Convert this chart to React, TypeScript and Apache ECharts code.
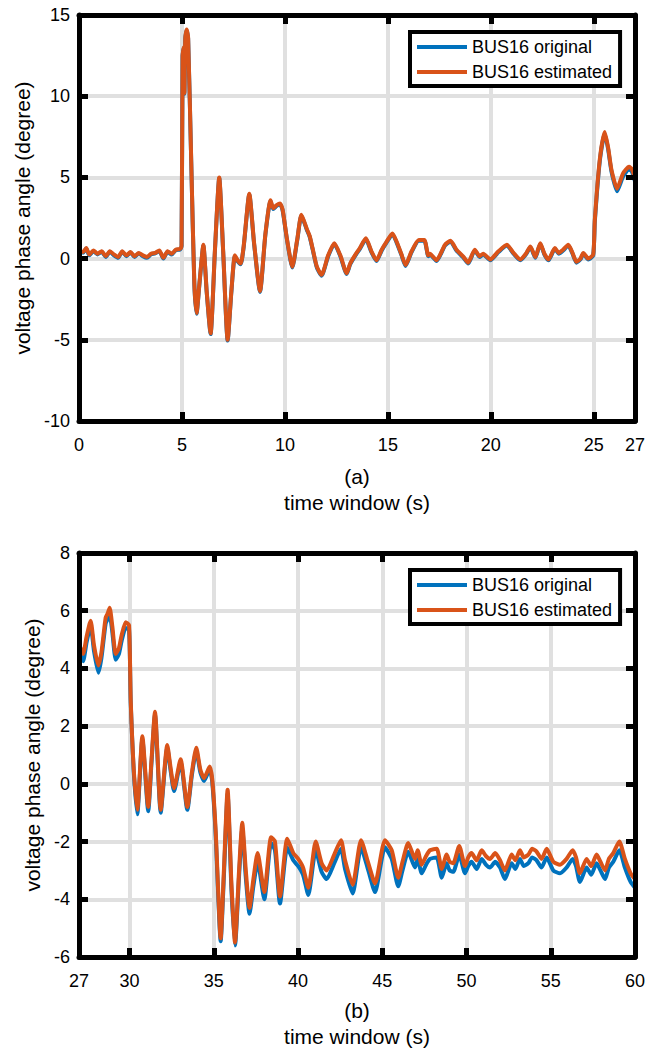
import React, { useEffect, useRef } from "react";
import * as echarts from "echarts";

// ---------- Data: subplot (a) ----------
const timeA = [0, 0.2, 0.35, 0.5, 0.7, 0.9, 1.1, 1.3, 1.5, 1.7, 1.9, 2.1, 2.3, 2.5, 2.7, 2.9, 3.1, 3.3, 3.5, 3.7, 3.9, 4.1, 4.3, 4.5, 4.7, 4.9, 4.98, 5.03, 5.08, 5.12, 5.16, 5.23, 5.3, 5.45, 5.6, 5.71, 5.85, 6.04, 6.2, 6.39, 6.6, 6.81, 7.0, 7.22, 7.4, 7.57, 7.7, 7.85, 8.0, 8.27, 8.5, 8.79, 9.05, 9.3, 9.43, 9.6, 9.76, 9.89, 10.1, 10.36, 10.6, 10.8, 11.07, 11.2, 11.34, 11.55, 11.78, 12.1, 12.4, 12.69, 13.0, 13.17, 13.4, 13.64, 13.93, 14.2, 14.45, 14.7, 14.94, 15.22, 15.42, 15.65, 15.86, 16.15, 16.5, 16.77, 16.96, 17.04, 17.36, 17.77, 18.04, 18.33, 18.66, 18.9, 19.22, 19.45, 19.63, 19.97, 20.37, 20.78, 21.1, 21.43, 21.7, 21.92, 22.16, 22.4, 22.6, 22.8, 23.11, 23.3, 23.51, 23.76, 23.95, 24.16, 24.35, 24.49, 24.73, 24.97, 25.05, 25.29, 25.53, 25.7, 25.86, 26.13, 26.42, 26.71, 26.85, 27];
const estimatedA = [0.5, 0.4, 0.65, 0.25, 0.5, 0.3, 0.45, 0.15, 0.45, 0.25, 0.1, 0.45, 0.2, 0.4, 0.15, 0.35, 0.2, 0.1, 0.3, 0.35, 0.5, 0.05, 0.45, 0.3, 0.55, 0.6, 0.8, 12.5, 13.0, 10.2, 13.6, 14.1, 13.6, 6.0, -1.5, -3.35, -1.5, 0.85, -2.0, -4.6, 0.5, 5.0, 0.5, -5.0, -2.0, 0.2, -0.1, -0.3, 0.8, 4.0, 1.0, -2.0, 1.5, 3.6, 3.1, 3.3, 3.4, 3.0, 1.2, -0.5, 1.2, 2.7, 1.8, 1.4, 0.65, -0.5, -1.0, 0.2, 0.95, 0.2, -0.9, -0.3, 0.2, 0.65, 1.25, 0.45, -0.1, 0.55, 1.05, 1.55, 1.05, 0.3, -0.4, 0.45, 1.15, 1.15, 0.2, 0.3, -0.1, 0.85, 1.1, 0.55, 0.12, -0.25, 0.55, 0.15, 0.3, -0.05, 0.45, 0.85, 0.35, -0.05, 0.3, 0.75, 0.1, 0.95, 0.3, -0.05, 0.65, 0.35, 0.55, 0.85, 0.4, -0.2, 0.0, 0.35, 0.0, 0.25, 2.4, 6.1, 7.8, 6.8, 5.45, 4.3, 5.25, 5.65, 5.5, 4.95];
const originalA = [0.47, 0.36, 0.62, 0.2, 0.46, 0.26, 0.42, 0.1, 0.42, 0.2, 0.05, 0.42, 0.15, 0.37, 0.1, 0.32, 0.15, 0.05, 0.27, 0.32, 0.46, 0.0, 0.42, 0.25, 0.52, 0.56, 0.76, 12.45, 12.95, 10.15, 13.55, 14.05, 13.55, 5.95, -1.55, -3.4, -1.55, 0.8, -2.05, -4.65, 0.45, 4.95, 0.45, -5.05, -2.05, 0.15, -0.15, -0.35, 0.75, 3.95, 0.95, -2.05, 1.45, 3.55, 3.05, 3.25, 3.35, 2.95, 1.15, -0.55, 1.15, 2.65, 1.75, 1.35, 0.6, -0.55, -1.05, 0.15, 0.9, 0.15, -0.95, -0.35, 0.15, 0.6, 1.2, 0.4, -0.15, 0.5, 1.0, 1.5, 1.0, 0.25, -0.45, 0.4, 1.1, 1.1, 0.15, 0.25, -0.15, 0.8, 1.05, 0.5, 0.07, -0.3, 0.5, 0.1, 0.25, -0.1, 0.4, 0.8, 0.3, -0.1, 0.25, 0.7, 0.05, 0.9, 0.25, -0.1, 0.6, 0.3, 0.5, 0.8, 0.35, -0.25, -0.05, 0.3, -0.05, 0.2, 2.3, 6.0, 7.7, 6.7, 5.35, 4.15, 5.05, 5.5, 5.35, 4.75];

// ---------- Data: subplot (b) ----------
const timeB = [27, 27.24, 27.45, 27.69, 27.89, 28.15, 28.33, 28.58, 28.7, 28.82, 28.98, 29.18, 29.37, 29.53, 29.77, 29.97, 30.07, 30.25, 30.46, 30.76, 31.11, 31.3, 31.51, 31.85, 32.24, 32.45, 32.64, 33.03, 33.43, 33.7, 33.96, 34.2, 34.42, 34.76, 34.91, 35.11, 35.41, 35.6, 35.82, 36.05, 36.26, 36.5, 36.69, 36.9, 37.12, 37.35, 37.6, 38.0, 38.4, 38.63, 38.93, 39.36, 39.72, 40.01, 40.3, 40.61, 41.05, 41.4, 41.7, 42.15, 42.55, 42.79, 43.24, 43.74, 44.17, 44.57, 45.16, 45.56, 45.95, 46.2, 46.54, 46.94, 47.1, 47.34, 47.6, 47.83, 48.23, 48.53, 48.82, 49.0, 49.21, 49.57, 49.91, 50.1, 50.3, 50.6, 50.9, 51.15, 51.39, 51.7, 51.99, 52.28, 52.68, 52.9, 53.17, 53.4, 53.67, 53.9, 54.16, 54.45, 54.76, 55.15, 55.55, 55.94, 56.3, 56.5, 56.73, 57.13, 57.4, 57.72, 57.95, 58.22, 58.45, 58.71, 59.07, 59.4, 59.74, 60];
const estimatedB = [4.85, 4.5, 5.1, 5.65, 4.8, 4.1, 4.55, 5.75, 5.9, 6.1, 5.45, 4.5, 4.7, 5.15, 5.6, 5.5, 2.9, 0.5, -0.9, 1.65, -0.8, 0.8, 2.5, -0.9, 1.35, 0.5, -0.15, 0.85, -0.8, 0.4, 1.25, 0.5, 0.2, 0.6, 0.15, -1.6, -5.35, -3.0, -0.2, -3.5, -5.5, -3.0, -1.35, -3.0, -4.3, -3.3, -2.4, -3.75, -1.85, -2.0, -3.9, -1.9, -2.4, -2.6, -2.9, -3.6, -2.0, -2.75, -3.0, -2.45, -1.95, -2.65, -3.5, -1.95, -2.75, -3.45, -1.95, -2.3, -3.25, -2.7, -2.05, -2.6, -2.3, -2.8, -2.5, -2.3, -2.25, -2.95, -2.45, -2.7, -2.75, -2.15, -2.85, -2.55, -2.4, -2.65, -2.3, -2.5, -2.6, -2.4, -2.65, -3.0, -2.45, -2.65, -2.3, -2.55, -2.45, -2.25, -2.35, -2.6, -2.25, -2.7, -2.8, -2.6, -2.3, -2.55, -3.1, -2.6, -2.85, -2.45, -2.7, -3.0, -2.6, -2.4, -2.0, -2.6, -3.1, -3.3];
const originalB = [4.6, 4.25, 4.9, 5.5, 4.6, 3.85, 4.35, 5.55, 5.7, 5.85, 5.25, 4.3, 4.5, 4.95, 5.4, 5.35, 2.8, 0.4, -1.05, 1.55, -0.95, 0.7, 2.4, -1.0, 1.25, 0.4, -0.25, 0.75, -0.9, 0.3, 1.15, 0.4, 0.1, 0.5, 0.05, -1.75, -5.45, -3.2, -0.35, -3.7, -5.6, -3.2, -1.55, -3.25, -4.5, -3.55, -2.7, -4.0, -2.05, -2.3, -4.15, -2.2, -2.65, -2.85, -3.15, -3.85, -2.3, -3.05, -3.3, -2.75, -2.25, -2.95, -3.8, -2.2, -3.0, -3.75, -2.2, -2.6, -3.55, -3.0, -2.35, -2.9, -2.6, -3.1, -2.8, -2.6, -2.55, -3.25, -2.75, -3.0, -3.05, -2.45, -3.1, -2.85, -2.7, -2.95, -2.6, -2.8, -2.9, -2.7, -2.9, -3.3, -2.75, -2.95, -2.6, -2.85, -2.75, -2.55, -2.65, -2.9, -2.55, -3.0, -3.1, -2.9, -2.6, -2.85, -3.4, -2.9, -3.15, -2.75, -3.0, -3.3, -2.9, -2.7, -2.3, -2.9, -3.4, -3.6];

// ---------- Axis ticks / labels ----------
const xTicksB = [27, 30, 35, 40, 45, 50, 55, 60];
const seriesNames = ["BUS16 original", "BUS16 estimated"];
const xTitleA = "(a)\ntime window (s)";
const xTitleB = "(b)\ntime window (s)";
const yTitle = "voltage phase angle (degree)";

const BLUE = "#0072BD";
const ORANGE = "#D95319";
const FONT = "'Liberation Sans', Arial, Helvetica, sans-serif";

const pair = (t: number[], v: number[]) => t.map((x, i) => [x, v[i]]);

export default function App() {
  const ref = useRef<HTMLDivElement>(null);
  useEffect(() => {
    document.body.style.margin = "0";
    if (!ref.current) return;
    const chart = echarts.init(ref.current, undefined, { renderer: "svg" });

    const grids = [
      { left: 79, top: 15, width: 556, height: 406 },
      { left: 79, top: 553, width: 556, height: 404 },
    ];
    const xRange = [
      { min: 0, max: 27 },
      { min: 27, max: 60 },
    ];
    const yRange = [
      { min: -10, max: 15, interval: 5 },
      { min: -6, max: 8, interval: 2 },
    ];
    const xTitles = [xTitleA, xTitleB];
    const yGaps = [42, 33];
    const xNameGaps = [42, 40];

    const lineStyle = { color: "#000", width: 5 };
    const tickStyle = { show: true, inside: true, length: 9, lineStyle: { color: "#000", width: 5 } };

    const xAxes: any[] = [];
    const yAxes: any[] = [];
    [0, 1].forEach((g) => {
      const xBase: any = { type: "value", gridIndex: g, min: xRange[g].min, max: xRange[g].max };
      if (g === 0) xBase.interval = 5;
      const xTickCustom = g === 1 ? { customValues: xTicksB } : {};
      xAxes.push({
        ...xBase,
        position: "bottom",
        z: 0,
        axisLine: { show: false },
        axisTick: { show: false, ...xTickCustom },
        axisLabel: { show: false, ...xTickCustom },
        splitLine: { show: true, lineStyle: { color: "#e0e0e0", width: 4 } },
      });
      xAxes.push({
        ...xBase,
        position: "bottom",
        z: 3,
        axisLine: { show: true, onZero: false, lineStyle },
        axisTick: { ...tickStyle, ...xTickCustom },
        axisLabel: { show: true, margin: 15, fontSize: 18, color: "#000", fontFamily: FONT, ...xTickCustom },
        splitLine: { show: false },
        name: xTitles[g],
        nameLocation: "middle",
        nameGap: xNameGaps[g],
        nameTextStyle: { fontSize: 21, lineHeight: 26, color: "#000", fontFamily: FONT, verticalAlign: "top" },
      });
      xAxes.push({
        ...xBase,
        position: "top",
        z: 3,
        axisLine: { show: true, onZero: false, lineStyle },
        axisTick: { ...tickStyle, ...xTickCustom },
        axisLabel: { show: false },
        splitLine: { show: false },
      });

      const yBase: any = { type: "value", gridIndex: g, ...yRange[g] };
      yAxes.push({
        ...yBase,
        position: "left",
        z: 0,
        axisLine: { show: false },
        axisTick: { show: false },
        axisLabel: { show: false },
        splitLine: { show: true, lineStyle: { color: "#e0e0e0", width: 4 } },
      });
      yAxes.push({
        ...yBase,
        position: "left",
        z: 3,
        axisLine: { show: true, onZero: false, lineStyle },
        axisTick: tickStyle,
        axisLabel: { show: true, margin: 9, fontSize: 18, color: "#000", fontFamily: FONT },
        splitLine: { show: false },
        name: yTitle,
        nameLocation: "middle",
        nameRotate: 90,
        nameGap: yGaps[g],
        nameTextStyle: { fontSize: 21, color: "#000", fontFamily: FONT },
      });
      yAxes.push({
        ...yBase,
        position: "right",
        z: 3,
        axisLine: { show: true, onZero: false, lineStyle },
        axisTick: tickStyle,
        axisLabel: { show: false },
        splitLine: { show: false },
      });
    });

    const legendBase = {
      left: 410,
      orient: "vertical",
      itemWidth: 50,
      itemHeight: 18,
      itemGap: 7,
      padding: [6, 8, 5, 5],
      borderColor: "#000",
      borderWidth: 4,
      borderRadius: 0,
      backgroundColor: "#fff",
      selectedMode: false,
      itemStyle: { opacity: 0 },
      lineStyle: { width: 4 },
      textStyle: { fontSize: 18, color: "#000", fontFamily: FONT },
      data: seriesNames,
    };

    const mkSeries = (name: string, color: string, g: number, data: number[][]) => ({
      type: "line",
      name,
      xAxisIndex: g * 3,
      yAxisIndex: g * 3,
      data,
      symbol: "none",
      showSymbol: false,
      smooth: 0.2,
      clip: true,
      color,
      lineStyle: { color, width: 4 },
      z: 2,
    });

    chart.setOption({
      animation: false,
      backgroundColor: "#fff",
      textStyle: { fontFamily: FONT },
      grid: grids.map((g) => ({ ...g, containLabel: false })),
      xAxis: xAxes,
      yAxis: yAxes,
      legend: [
        { ...legendBase, top: 32 },
        { ...legendBase, top: 570 },
      ],
      series: [
        mkSeries(seriesNames[0], BLUE, 0, pair(timeA, originalA)),
        mkSeries(seriesNames[1], ORANGE, 0, pair(timeA, estimatedA)),
        mkSeries(seriesNames[0], BLUE, 1, pair(timeB, originalB)),
        mkSeries(seriesNames[1], ORANGE, 1, pair(timeB, estimatedB)),
      ],
    });
    return () => chart.dispose();
  }, []);
  return <div ref={ref} style={{ width: 660, height: 1053 }} />;
}
